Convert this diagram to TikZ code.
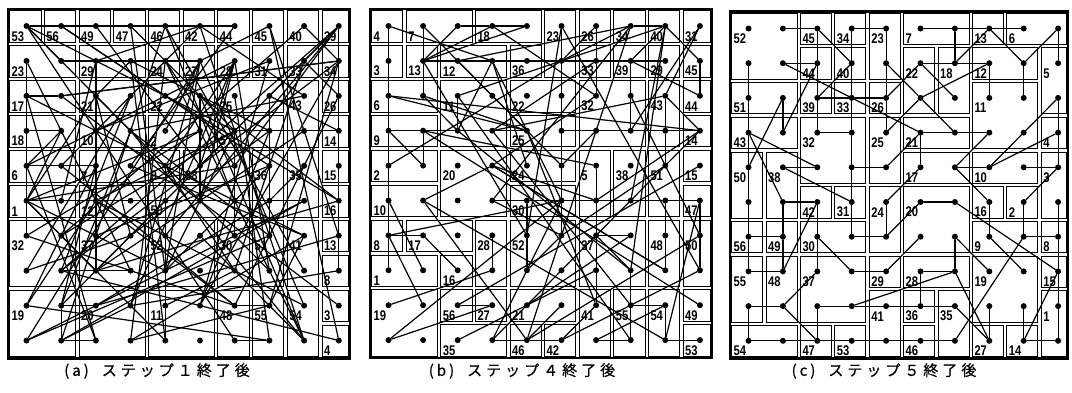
\documentclass[tikz,border=0pt]{standalone}
\usepackage{fontspec}
\setmainfont{Liberation Sans}
\newfontfamily\cjk[FakeBold=0.6]{Noto Sans CJK JP}
\usepackage{graphicx}

% prefix X0 Y0 W H R
\newcommand\mkdots[6]{%
  \draw[frame] (#2,#3) rectangle (#6,{#3+10*#5});
  \foreach \ia in {0,...,9}{\foreach \ja in {0,...,9}{%
    \node[dot] (#1-\ia-\ja) at ({#2+#4*\ja+18.5},{#3+#5*\ia+17}) {};
  }}%
}
% prefix X0 Y0 W H R list
\newcommand\mkrooms[7]{%
  \foreach \ia/\ja/\nr/\nc/\lbl in {#7}{%
    \pgfmathsetmacro\xa{#2+#4*\ja+1.7}%
    \pgfmathsetmacro\ya{#3+#5*\ia+1.7}%
    \pgfmathsetmacro\xb{(\ja+\nc>9.5)?(#6-1.7):(#2+#4*(\ja+\nc)-1.7)}%
    \pgfmathsetmacro\yb{#3+#5*(\ia+\nr)-1.7}%
    \draw[room] (\xa,\ya) rectangle (\xb,\yb);
    \node[lab] (#1-lab-\lbl) at ({#2+#4*\ja+3.5},{#3+#5*(\ia+1)-2.5}) {\scalebox{0.8}[1]{\lbl}};
  }%
}
\newcommand\mklinks[2]{%
  \foreach \ia/\ja/\ib/\jb in {#2}{\draw[link] (#1-\ia-\ja) -- (#1-\ib-\jb);}%
}
\newcommand\mkrandom[3]{%
  \pgfmathsetseed{#2}%
  \foreach \k in {1,...,#3}{%
    \pgfmathtruncatemacro\ra{random(0,9)}%
    \pgfmathtruncatemacro\ca{random(0,9)}%
    \pgfmathtruncatemacro\rb{random(0,9)}%
    \pgfmathtruncatemacro\cb{random(0,9)}%
    \pgfmathtruncatemacro\dd{abs(\ra-\rb)+abs(\ca-\cb)}%
    \ifnum\dd>1 \draw[link] (#1-\ra-\ca) -- (#1-\rb-\cb);\fi
  }%
}

\begin{document}
\begin{tikzpicture}[x=1pt,y=-1pt,
  dot/.style={circle,fill=black,inner sep=0pt,minimum size=6pt},
  room/.style={draw=black,line width=1pt},
  frame/.style={draw=black,line width=2.6pt},
  link/.style={draw=black,line width=1.2pt,line cap=round},
  lab/.style={font=\bfseries\fontsize{14}{14}\selectfont,inner sep=0pt,anchor=south west},
  capt/.style={font=\cjk\fontsize{15}{15}\selectfont,inner sep=0pt}]
\useasboundingbox (0,0) rectangle (1072,392);

% ---------------- panel (a)
\mkrooms{a}{8}{9}{34.7}{34.95}{350}{%
0/0/1/1/53,0/1/1/1/56,0/2/1/1/49,0/3/1/1/47,0/4/1/1/46,0/5/1/1/42,0/6/1/1/44,0/7/1/1/45,0/8/1/1/40,0/9/1/1/39,
1/0/1/2/23,1/2/1/2/29,1/4/1/1/24,1/5/1/1/27,1/6/1/1/28,1/7/1/1/31,1/8/1/1/33,1/9/1/1/34,
2/0/1/2/17,2/2/1/2/21,2/4/1/2/22,2/6/1/2/25,2/8/2/1/43,2/9/1/1/26,
3/0/1/2/18,3/2/1/2/10,3/4/1/2/2,3/6/1/2/5,3/9/1/1/14,
4/0/1/2/6,4/2/1/2/7,4/4/1/1/9,4/5/1/2/38,4/7/2/1/36,4/8/2/1/35,4/9/1/1/15,
5/0/1/2/1,5/2/1/2/12,5/4/1/3/50,5/9/1/1/16,
6/0/2/2/32,6/2/2/2/37,6/4/2/2/52,6/6/2/1/30,6/7/2/1/51,6/8/2/1/41,6/9/1/1/13,7/9/1/1/8,
8/0/2/2/19,8/2/2/2/20,8/4/2/2/11,8/6/2/1/48,8/7/2/1/55,8/8/2/1/54,8/9/1/1/3,9/9/1/1/4}
\mkdots{a}{8}{9}{34.7}{34.95}{350}
\mklinks{a}{1/0/2/0,2/0/3/0,1/1/1/2,1/2/1/3,1/3/1/4,2/0/2/1,3/0/3/1,4/0/4/1,4/1/4/2,
0/8/1/9,0/9/1/8,1/8/2/9,0/0/1/1,8/1/8/2,9/1/9/2,8/1/9/1,5/0/5/1,8/6/8/7,9/6/9/7,
5/9/6/9,6/9/7/9,0/0/3/3,0/1/2/4,0/2/4/5,0/3/3/6,0/4/5/6,0/5/2/8,0/6/4/3,0/7/1/5}
\mkrandom{a}{4711}{130}

% ---------------- panel (b)
\mkrooms{b}{370}{9}{34.6}{34.9}{712}{%
0/0/1/1/4,0/1/1/2/7,0/3/1/2/18,0/5/2/1/23,0/6/1/1/26,0/7/1/1/34,0/8/1/1/40,0/9/1/1/31,
1/0/1/1/3,1/1/1/1/13,1/2/1/2/12,1/4/1/1/36,1/6/1/1/33,1/7/1/1/39,1/8/1/1/29,1/9/1/1/45,
2/0/1/2/6,2/2/2/2/11,2/4/1/2/22,2/6/2/2/32,2/8/2/1/43,2/9/1/1/44,
3/0/1/2/9,3/4/1/2/25,3/9/1/1/14,
4/0/1/2/2,4/2/2/2/20,4/4/1/2/24,4/6/2/1/5,4/7/2/1/38,4/8/2/1/51,4/9/1/1/15,
5/0/1/2/10,5/4/1/2/30,5/9/1/1/47,
6/0/1/1/8,6/1/1/2/17,6/3/2/1/28,6/4/2/2/52,6/6/2/2/37,6/8/2/1/48,6/9/2/1/50,
7/0/1/2/1,7/2/1/1/16,
8/0/2/2/19,8/2/1/1/56,8/3/1/1/27,8/4/1/2/21,8/6/2/1/41,8/7/2/1/55,8/8/2/1/54,8/9/1/1/49,
9/2/1/2/35,9/4/1/1/46,9/5/1/1/42,9/9/1/1/53}
\mkdots{b}{370}{9}{34.6}{34.9}{712}
\mklinks{b}{0/0/1/0,1/0/2/0,2/0/3/0,3/0/4/0,4/0/5/0,5/0/6/0,6/0/7/0,
0/1/1/1,1/1/2/1,0/2/0/3,0/3/0/4,0/2/1/1,1/1/1/2,1/2/2/3,0/4/1/1,2/0/3/4,2/2/3/2,3/2/3/3,
2/3/3/4,3/0/3/1,3/1/4/1,3/0/4/1,3/1/3/4,1/3/3/2,
0/5/1/5,1/5/2/5,1/5/0/6,1/5/0/7,0/6/1/6,1/6/2/6,1/6/1/7,1/7/0/8,0/7/0/8,0/8/1/9,1/9/2/9,
1/7/2/9,1/7/2/7,2/7/3/7,2/8/3/8,3/8/4/8,3/6/3/5,3/5/4/5,3/9/4/8,
5/0/7/1,6/0/6/1,6/0/5/5,6/1/7/2,8/0/7/3,9/0/8/3,9/3/9/4,9/4/9/5,8/2/8/3,7/3/6/3,5/4/6/4,
6/4/7/4,5/8/5/9,5/9/6/9,6/9/7/9,6/6/6/7,6/6/7/6,7/7/6/6,6/8/7/8,6/8/5/8,7/6/8/6,8/6/9/5,
8/7/8/8,8/8/9/8,8/8/9/6,9/6/9/7,9/8/9/9,9/5/7/9,0/9/2/8,0/9/3/7,2/6/4/3,3/9/5/6}
\mkrandom{b}{2024}{60}

% ---------------- panel (c)
\mkrooms{c}{730}{11.5}{34.4}{34.7}{1068}{%
0/0/2/2/52,0/2/1/1/45,0/3/1/1/34,0/4/2/1/23,0/5/1/2/7,0/7/1/1/13,0/8/1/2/6,
1/2/1/1/44,1/3/1/1/40,1/5/2/1/22,1/6/2/1/18,1/7/1/2/12,1/9/2/1/5,
2/0/1/2/51,2/2/1/1/39,2/3/1/1/33,2/4/1/1/26,2/7/2/2/11,
3/0/1/2/43,3/2/2/2/32,3/4/2/1/25,3/5/1/2/21,3/9/1/1/4,
4/0/2/1/50,4/1/2/1/38,4/5/1/2/17,4/7/1/2/10,4/9/2/1/3,
5/2/1/1/42,5/3/1/1/31,5/4/2/1/24,5/5/2/2/20,5/7/1/1/16,5/8/1/1/2,
6/0/1/1/56,6/1/1/1/49,6/2/1/2/30,6/7/1/2/9,6/9/1/1/8,
7/0/2/1/55,7/1/2/1/48,7/2/2/2/37,7/4/1/1/29,7/5/1/2/28,7/7/2/2/19,7/9/1/1/15,
8/4/2/1/41,8/5/1/1/36,8/6/2/1/35,8/9/2/1/1,
9/0/1/2/54,9/2/1/1/47,9/3/1/1/53,9/5/1/1/46,9/7/1/1/27,9/8/1/1/14}
\mkdots{c}{730}{11.5}{34.4}{34.7}{1068}
\mklinks{c}{0/1/0/2,0/2/1/3,0/2/1/2,1/2/2/2,2/2/3/2,0/3/0/4,0/3/1/3,1/3/2/3,2/3/3/3,3/3/4/3,
0/4/1/4,1/4/2/4,2/4/3/4,1/0/2/0,2/0/3/0,3/0/4/0,1/1/1/2,1/1/3/5,2/1/3/1,3/1/1/2,2/1/4/0,
2/2/1/3,2/2/2/3,2/3/2/4,3/2/3/3,3/0/4/2,3/0/5/1,4/1/4/2,4/1/5/3,4/3/4/4,4/3/5/3,5/3/6/3,
4/4/3/5,1/4/2/5,2/4/1/5,
0/5/0/6,0/6/0/7,0/7/0/8,0/6/1/6,1/6/0/7,0/7/1/8,1/8/2/8,1/8/0/9,0/9/1/9,1/5/1/6,1/6/1/7,
1/5/2/6,1/7/2/7,1/7/2/5,2/5/3/6,2/5/3/4,3/5/3/6,3/6/3/7,3/5/4/5,3/8/4/7,3/9/4/7,2/9/3/8,
2/9/3/9,3/9/4/9,4/8/4/9,4/9/5/8,4/6/4/7,4/6/3/7,4/6/5/7,
4/0/5/0,5/0/6/0,6/0/7/0,8/0/9/0,8/0/8/1,6/0/6/1,7/0/7/1,5/1/5/2,5/2/6/2,6/2/7/2,6/1/7/1,
5/1/6/1,7/1/5/2,6/2/7/3,6/3/6/4,7/3/7/4,8/1/9/2,8/1/7/2,8/2/8/3,8/3/8/4,8/2/9/2,9/0/9/1,
9/1/9/2,9/2/9/3,9/3/9/4,9/4/9/5,9/5/9/6,8/3/7/6,8/4/8/5,5/4/4/5,5/4/6/4,7/4/6/5,6/4/5/5,
5/5/5/6,5/6/7/9,5/7/6/7,5/8/6/8,5/9/6/9,6/9/7/9,7/9/8/9,8/9/9/9,6/6/7/6,6/6/7/7,6/7/7/8,
6/8/6/9,6/8/9/6,7/5/7/6,7/5/8/5,7/6/9/7,8/6/9/7,8/7/9/7,8/8/9/8,9/8/7/9,9/8/9/9,8/5/8/6}

% ---------------- captions
\node[capt] (capa) at (157,371) {(\kern3pt a\kern3pt)\kern13pt ス\kern4pt テ\kern4pt ッ\kern4pt プ\kern4pt １\kern4pt 終\kern4pt 了\kern4pt 後};
\node[capt] (capb) at (522,371) {(\kern3pt b\kern3pt)\kern13pt ス\kern4pt テ\kern4pt ッ\kern4pt プ\kern4pt ４\kern4pt 終\kern4pt 了\kern4pt 後};
\node[capt] (capc) at (884,371) {(\kern3pt c\kern3pt)\kern13pt ス\kern4pt テ\kern4pt ッ\kern4pt プ\kern4pt ５\kern4pt 終\kern4pt 了\kern4pt 後};
\end{tikzpicture}
\end{document}
